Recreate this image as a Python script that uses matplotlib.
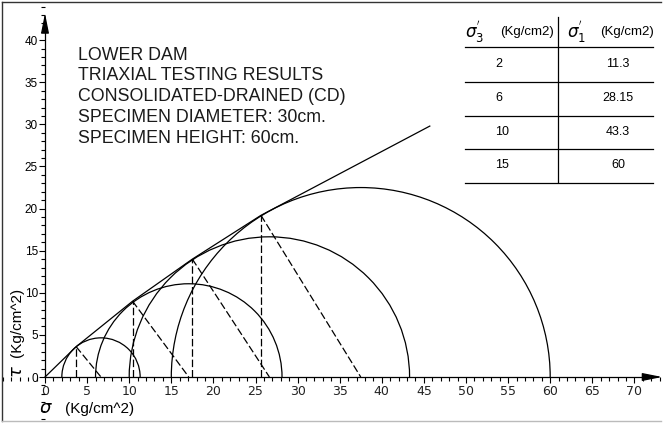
import matplotlib
matplotlib.use("Agg")
import matplotlib.pyplot as plt
from matplotlib.patches import Arc
from matplotlib.ticker import MultipleLocator

# -------------------------
# Data
# -------------------------
SIGMA3 = [2, 6, 10, 15]            # Kg/cm2
SIGMA1 = [11.3, 28.15, 43.3, 60]   # Kg/cm2
SIGMA1_LABELS = ["11.3", "28.15", "43.3", "60"]

# tangent points on each circle
TANG_SIGMA = [3.7, 10.4, 17.5, 25.65]
TANG_TAU = [3.6, 9.0, 14.0, 19.2]

# failure envelope (polyline)
ENV_SIGMA = [0, 3.7, 10.4, 17.5, 25.65, 45.7]
ENV_TAU = [0, 3.6, 9.0, 14.0, 19.2, 29.8]

TITLE_LINES = [
    "LOWER DAM",
    "TRIAXIAL TESTING RESULTS",
    "CONSOLIDATED-DRAINED (CD)",
    "SPECIMEN DIAMETER: 30cm.",
    "SPECIMEN HEIGHT: 60cm.",
]

W, H = 663, 423
SCALE = 8.42       # px per Kg/cm2
X0, Y0 = 45, 377   # pixel position of origin
LW = 0.9


def fx(px):
    return px / W


def fy(py):
    return 1 - py / H


fig = plt.figure(figsize=(W / 100, H / 100), dpi=100)
ax = fig.add_axes([0, 0, 1, 1])
ax.set_xlim(-X0 / SCALE, (W - X0) / SCALE)
ax.set_ylim(-(H - Y0) / SCALE, Y0 / SCALE)

# -------------------------
# Axes with arrows
# -------------------------
for s in ["top", "right"]:
    ax.spines[s].set_visible(False)
ax.spines["left"].set_position(("data", 0))
ax.spines["bottom"].set_position(("data", 0))
ax.spines["left"].set_bounds(0, 42)
ax.spines["bottom"].set_bounds(0, 72)
ax.spines["left"].set_linewidth(LW)
ax.spines["bottom"].set_linewidth(LW)
ax.patch.set_visible(False)

ax.set_xticks(range(0, 71, 5))
ax.set_yticks(range(0, 41, 5))
ax.xaxis.set_minor_locator(MultipleLocator(1))
ax.yaxis.set_minor_locator(MultipleLocator(1))
ax.tick_params(which="major", direction="out", length=4, width=0.8, pad=2)
ax.tick_params(which="minor", direction="out", length=3, width=0.8)
ax.tick_params(axis="x", labelsize=9)
ax.tick_params(axis="y", labelsize=8.5, pad=1)
for lab in ax.get_yticklabels():
    lab.set_family("Liberation Sans")
for lab in ax.get_xticklabels():
    lab.set_color("#222222")

arrow = dict(arrowstyle="-|>,head_length=1.0,head_width=0.2",
             mutation_scale=12, color="k", lw=LW, shrinkA=0, shrinkB=0)
ax.annotate("", xy=(73.3, 0), xytext=(71.5, 0), arrowprops=arrow,
            annotation_clip=False)
ax.annotate("", xy=(0, 43.2), xytext=(0, 41.5), arrowprops=arrow,
            annotation_clip=False)

# -------------------------
# Mohr circles
# -------------------------
for s3, s1 in zip(SIGMA3, SIGMA1):
    c = (s1 + s3) / 2
    d = s1 - s3
    ax.add_patch(Arc((c, 0), d, d, theta1=0, theta2=180, color="k", lw=LW))

# envelope
ax.plot(ENV_SIGMA, ENV_TAU, color="k", lw=LW)

# dashed construction lines
for s3, s1, ts, tt in zip(SIGMA3, SIGMA1, TANG_SIGMA, TANG_TAU):
    c = (s1 + s3) / 2
    ax.plot([ts, ts], [0, tt], color="k", lw=LW, dashes=(6, 2.3))
    ax.plot([ts, c], [tt, 0], color="k", lw=LW, dashes=(6, 2.3))

# -------------------------
# Text block
# -------------------------
for i, line in enumerate(TITLE_LINES):
    ax.text(fx(78), fy(55 + i * 20.8), line, transform=ax.transAxes,
            fontsize=12.8, family="Liberation Sans", color="#1a1a1a",
            ha="left", va="center")

# axis labels
ax.text(fx(17), fy(372), r"$\tau$", transform=ax.transAxes, fontsize=13,
        rotation=90, ha="center", va="center")
ax.text(fx(17), fy(322), "(Kg/cm^2)", transform=ax.transAxes, fontsize=11,
        family="Liberation Sans", rotation=90, ha="center", va="center")
ax.text(fx(46), fy(408), r"$\sigma$", transform=ax.transAxes, fontsize=13,
        ha="center", va="center")
ax.text(fx(65), fy(409), "(Kg/cm^2)", transform=ax.transAxes, fontsize=11,
        family="Liberation Sans", ha="left", va="center")

# -------------------------
# Results table
# -------------------------
ax.text(fx(465), fy(32), r"$\sigma^{'}_{3}$", transform=ax.transAxes,
        fontsize=12, ha="left", va="center")
ax.text(fx(500), fy(32), "(Kg/cm2)", transform=ax.transAxes, fontsize=9.5,
        family="Liberation Sans", ha="left", va="center")
ax.text(fx(567), fy(32), r"$\sigma^{'}_{1}$", transform=ax.transAxes,
        fontsize=12, ha="left", va="center")
ax.text(fx(600), fy(32), "(Kg/cm2)", transform=ax.transAxes, fontsize=9.5,
        family="Liberation Sans", ha="left", va="center")

row_y = [64, 98, 132, 165]
for yy, s3, s1 in zip(row_y, SIGMA3, SIGMA1_LABELS):
    ax.text(fx(495), fy(yy), str(s3), transform=ax.transAxes, fontsize=9,
            family="Liberation Sans", ha="left", va="center")
    ax.text(fx(618), fy(yy), s1, transform=ax.transAxes, fontsize=9,
            family="Liberation Sans", ha="center", va="center")

for yy in [47, 82, 116, 149, 183]:
    ax.plot([fx(465), fx(653)], [fy(yy), fy(yy)], transform=ax.transAxes,
            color="k", lw=LW, clip_on=False)
ax.plot([fx(558), fx(558)], [fy(17), fy(182)], transform=ax.transAxes,
        color="k", lw=LW, clip_on=False)

# -------------------------
# Frame around the picture
# -------------------------
ax.plot([fx(2), fx(661)], [fy(2), fy(2)], transform=ax.transAxes,
        color="#333333", lw=1, clip_on=False)
ax.plot([fx(2), fx(2)], [fy(2), fy(421)], transform=ax.transAxes,
        color="#333333", lw=1, clip_on=False)
ax.plot([fx(2), fx(661)], [fy(421), fy(421)], transform=ax.transAxes,
        color="#bbbbbb", lw=1, clip_on=False)

fig.savefig("out.png", dpi=100)
plt.close(fig)
